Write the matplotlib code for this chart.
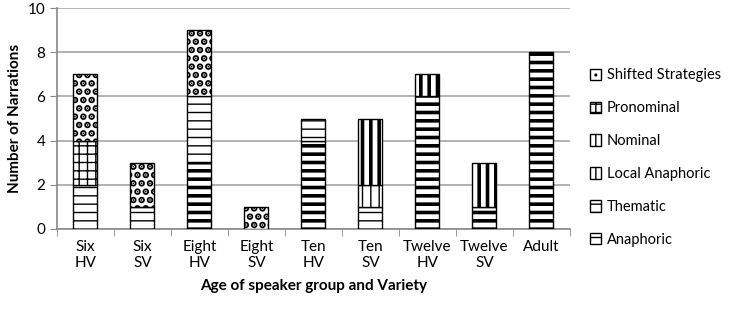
import matplotlib.pyplot as plt
from matplotlib.patches import Rectangle
import numpy as np

plt.rcParams['font.family'] = ['Lato', 'DejaVu Sans']

groups = ['Six\nHV', 'Six\nSV', 'Eight\nHV', 'Eight\nSV', 'Ten\nHV', 'Ten\nSV',
          'Twelve\nHV', 'Twelve\nSV', 'Adult']
anaphoric = [0, 0, 3, 0, 4, 0, 6, 1, 8]
thematic = [2, 1, 3, 0, 1, 1, 0, 0, 0]
local_anaphoric = [0, 0, 0, 0, 0, 1, 0, 0, 0]
nominal = [0, 0, 0, 0, 0, 3, 1, 2, 0]
pronominal = [2, 0, 0, 0, 0, 0, 0, 0, 0]
shifted = [3, 2, 3, 1, 0, 0, 0, 0, 0]

series = [
    ('Anaphoric', anaphoric, '--', 2.6),
    ('Thematic', thematic, '--', 1.0),
    ('Local Anaphoric', local_anaphoric, '||', 1.0),
    ('Nominal', nominal, '||', 2.6),
    ('Pronominal', pronominal, '++', 1.0),
    ('Shifted Strategies', shifted, '..', 3.4),
]


def set_hlw(p, lw):
    if hasattr(p, 'set_hatch_linewidth'):
        p.set_hatch_linewidth(lw)


fig = plt.figure(figsize=(7.37, 3.09), dpi=100)
ax = fig.add_axes([0.0773, 0.259, 0.696, 0.715])

x = np.arange(len(groups))
bottom = np.zeros(len(groups))
handles = []
for name, vals, hatch, lw in series:
    vals = np.array(vals, dtype=float)
    with plt.rc_context({'hatch.linewidth': lw}):
        bars = ax.bar(x, vals, 0.42, bottom=bottom, color='white', edgecolor='black',
                      hatch=hatch, linewidth=1.0, label=name, zorder=3)
        proxy = Rectangle((0, 0), 1, 1, facecolor='white', edgecolor='black',
                          hatch=hatch, linewidth=1.0)
    set_hlw(proxy, min(lw, 2.5))
    for b in bars:
        set_hlw(b, lw)
        if b.get_height() == 0:
            b.set_visible(False)
    handles.append(proxy)
    bottom += vals

ax.set_xlim(-0.5, len(groups) - 0.5)
ax.set_ylim(0, 10)
ax.set_yticks(range(0, 11, 2))
ax.set_xticks(x)
ax.set_xticklabels(groups, fontsize=11)
ax.set_xticks(np.arange(-0.5, len(groups), 1), minor=True)
ax.tick_params(axis='x', which='major', length=0, pad=8)
ax.tick_params(axis='x', which='minor', length=5, color='#888888')
ax.tick_params(axis='y', length=5, color='#888888', labelsize=11)
ax.yaxis.grid(True, color='#a6a6a6', linewidth=1.2, zorder=0)
for s in ['top', 'right']:
    ax.spines[s].set_visible(False)
for s in ['left', 'bottom']:
    ax.spines[s].set_color('#888888')
    ax.spines[s].set_linewidth(1.2)

ax.set_xlabel('Age of speaker group and Variety', fontsize=11, fontweight='bold', labelpad=6)
ax.set_ylabel('Number of Narrations', fontsize=11, fontweight='bold')

fig.legend(handles[::-1], [s[0] for s in series][::-1], loc='center left',
           bbox_to_anchor=(0.80, 0.49), frameon=False, fontsize=10.5,
           handlelength=0.8, handleheight=0.8, labelspacing=1.3, handletextpad=0.4,
           borderaxespad=0, borderpad=0)

fig.savefig('out.png', dpi=100)
